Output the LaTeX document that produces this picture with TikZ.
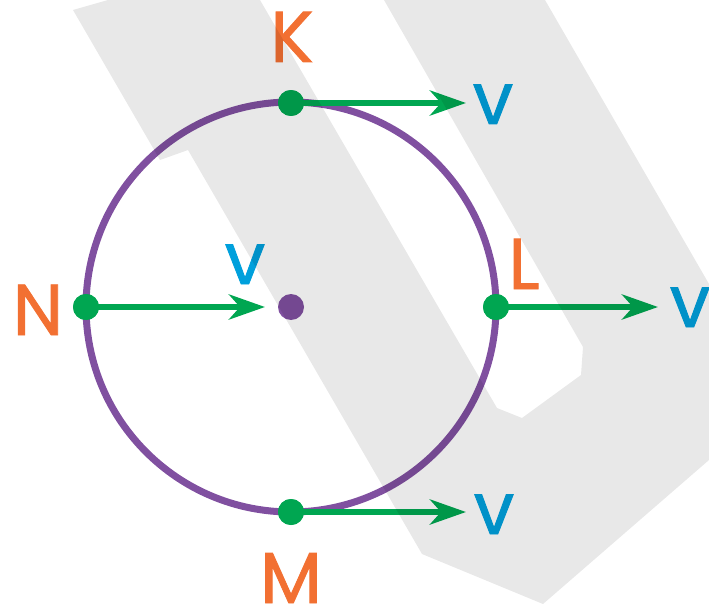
\documentclass[tikz,border=0pt]{standalone}
\usepackage{fontspec}
\newfontfamily\lblfont{Poppins}[FakeBold=1.2]
\usetikzlibrary{arrows.meta}
\definecolor{circpurple}{RGB}{128,80,160}
\definecolor{velgreen}{RGB}{0,166,81}
\definecolor{ptorange}{RGB}{242,112,50}
\definecolor{vblue}{RGB}{0,160,220}
\definecolor{bandgray}{RGB}{232,232,232}

\begin{document}
\begin{tikzpicture}[x=0.02cm,y=-0.02cm,
    >={Stealth[length=0.72cm,width=0.5cm,inset=0.22cm]},
    dot/.style={circle,fill=velgreen,inner sep=0pt,minimum size=0.52cm},
    vel/.style={->,velgreen,line width=0.12cm},
    ptlabel/.style={anchor=base,inner sep=0pt,text=ptorange,font=\lblfont\fontsize{41}{41}\selectfont},
    vlabel/.style={anchor=base,inner sep=0pt,text=vblue,font=\lblfont\fontsize{41}{41}\selectfont}]
    \useasboundingbox (0,0) rectangle (709,611);
    % wheel
    \draw[circpurple,line width=0.14cm] (291,307) circle[radius=205];
    \node[circle,fill=circpurple,inner sep=0pt,minimum size=0.52cm] (O) at (291,307) {};
    % points on the rim
    \node[dot] (K) at (291,103) {};
    \node[dot] (L) at (496,307) {};
    \node[dot] (M) at (291,512) {};
    \node[dot] (N) at (86,307) {};
    \coordinate (Kt) at (466,103);
    \coordinate (Lt) at (658,307);
    \coordinate (Mt) at (466,512);
    \coordinate (Nt) at (265,307);
    \draw[vel] (K.center) -- (Kt);
    \draw[vel] (L.center) -- (Lt);
    \draw[vel] (M.center) -- (Mt);
    \draw[vel] (N.center) -- (Nt);
    \node[dot] at (K) {};
    \node[dot] at (L) {};
    \node[dot] at (M) {};
    \node[dot] at (N) {};
    % labels
    \node[ptlabel] (Klbl) at (292,62) {K};
    \node[ptlabel] (Llbl) at (524,289) {L};
    \node[ptlabel] (Mlbl) at (291,603) {M};
    \node[ptlabel] (Nlbl) at (38,335) {N};
    \node[vlabel] (Kv) at (493,124) {v};
    \node[vlabel] (Ov) at (245,284) {v};
    \node[vlabel] (Lv) at (690,327) {v};
    \node[vlabel] (Mv) at (494,534) {v};
    % grey bands
    \begin{scope}[blend mode=multiply]
      \fill[bandgray] (73,10) -- (108,0) -- (260,0) -- (497,408) -- (522,418)
        -- (581,375) -- (583,347) -- (384,0) -- (545,0) -- (709,284)
        -- (709,460) -- (543,604) -- (422,554) -- (188,150) -- (160,160) -- cycle;
    \end{scope}
\end{tikzpicture}
\end{document}
